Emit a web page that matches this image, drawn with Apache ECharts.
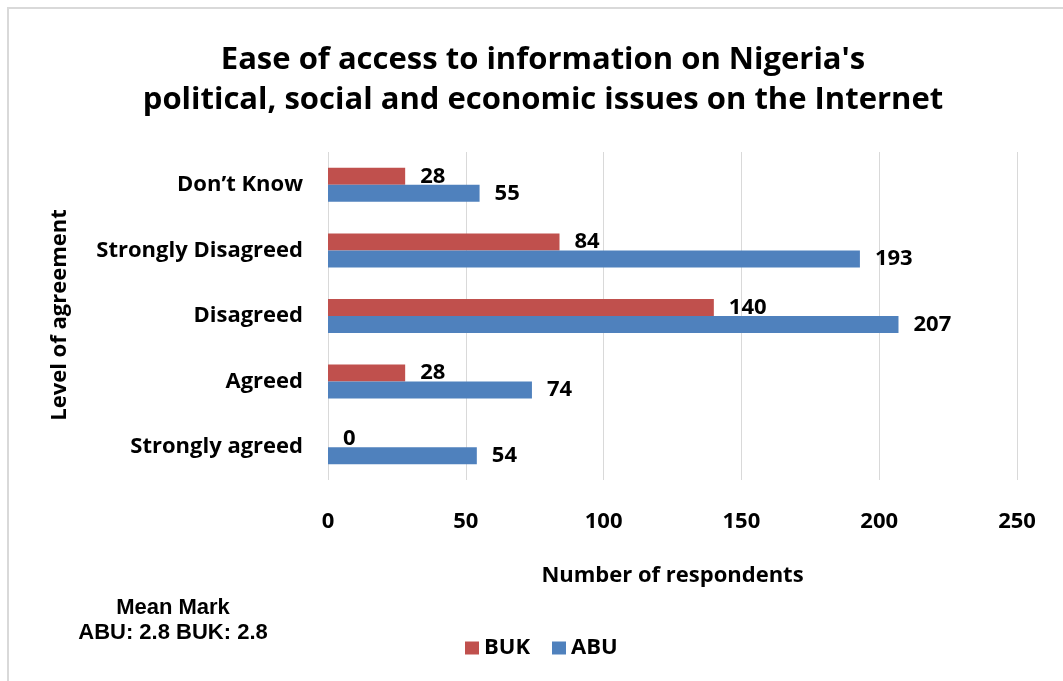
<!DOCTYPE html>
<html>
<head>
<meta charset="utf-8">
<script src="https://cdn.jsdelivr.net/npm/echarts@6/dist/echarts.min.js"></script>
<style>
  html, body { margin: 0; padding: 0; background: #ffffff; }
  #chart { width: 1063px; height: 681px; }
</style>
</head>
<body>
<div id="chart"></div>
<script>
// Survey responses: level of agreement, listed bottom to top on the category axis
const categories = ['Strongly agreed', 'Agreed', 'Disagreed', 'Strongly Disagreed', 'Don\u2019t Know'];
const bukValues = [0, 28, 140, 84, 28];
const abuValues = [54, 74, 207, 193, 55];
const xTicks = [0, 50, 100, 150, 200, 250];

const FONT = '"Open Sans"';
const chart = echarts.init(document.getElementById('chart'));

const labelStyle = {
  show: true,
  position: 'right',
  distance: 15,
  fontFamily: FONT,
  fontWeight: 'bold',
  fontSize: 22,
  color: '#000'
};

chart.setOption({
  animation: false,
  title: {
    text: 'Ease of access to information on Nigeria\'s\npolitical, social and economic issues on the Internet',
    left: 538,
    textAlign: 'center',
    top: 35,
    textStyle: {
      fontFamily: FONT,
      fontWeight: 'bold',
      fontSize: 31,
      lineHeight: 40,
      color: '#000'
    }
  },
  legend: {
    data: ['BUK', 'ABU'],
    left: 460,
    top: 632,
    itemWidth: 14,
    itemHeight: 13,
    itemGap: 22,
    icon: 'rect',
    textStyle: { fontFamily: FONT, fontWeight: 'bold', fontSize: 22, color: '#000' }
  },
  grid: { left: 328, right: 46, top: 152, bottom: 201 },
  xAxis: {
    type: 'value',
    min: xTicks[0],
    max: xTicks[xTicks.length - 1],
    interval: 50,
    name: 'Number of respondents',
    nameLocation: 'middle',
    nameGap: 85,
    nameTextStyle: { fontFamily: FONT, fontWeight: 'bold', fontSize: 22, color: '#000' },
    axisLine: { show: false },
    axisTick: { show: false },
    axisLabel: { margin: 31, fontFamily: FONT, fontWeight: 'bold', fontSize: 22, color: '#000' },
    splitLine: { show: true, lineStyle: { color: '#d9d9d9', width: 1 } }
  },
  yAxis: {
    type: 'category',
    data: categories,
    axisLine: { show: false },
    axisTick: { show: false },
    axisLabel: { margin: 25, fontFamily: FONT, fontWeight: 'bold', fontSize: 22, color: '#000' }
  },
  series: [
    {
      name: 'BUK',
      type: 'bar',
      data: bukValues,
      barWidth: 17,
      barGap: '0%',
      itemStyle: { color: '#C0504D' },
      label: labelStyle
    },
    {
      name: 'ABU',
      type: 'bar',
      data: abuValues,
      barWidth: 17,
      barGap: '0%',
      itemStyle: { color: '#4F81BD' },
      label: labelStyle
    }
  ],
  graphic: [
    {
      type: 'polyline',
      shape: { points: [[8, 700], [8, 8], [1080, 8]] },
      style: { stroke: '#d9d9d9', lineWidth: 2, fill: null }
    },
    {
      // vertical axis title, placed beside the category labels
      type: 'text',
      x: 60,
      y: 315,
      rotation: Math.PI / 2,
      style: {
        text: 'Level of agreement',
        textAlign: 'center',
        textVerticalAlign: 'middle',
        font: 'bold 22px "Open Sans", sans-serif',
        fill: '#000'
      }
    },
    {
      type: 'text',
      x: 173,
      y: 620,
      style: {
        text: 'Mean Mark\nABU: 2.8 BUK: 2.8',
        textAlign: 'center',
        textVerticalAlign: 'middle',
        font: 'bold 22px "Liberation Sans", Arial, sans-serif',
        lineHeight: 25,
        fill: '#000'
      }
    }
  ]
});
</script>
</body>
</html>
